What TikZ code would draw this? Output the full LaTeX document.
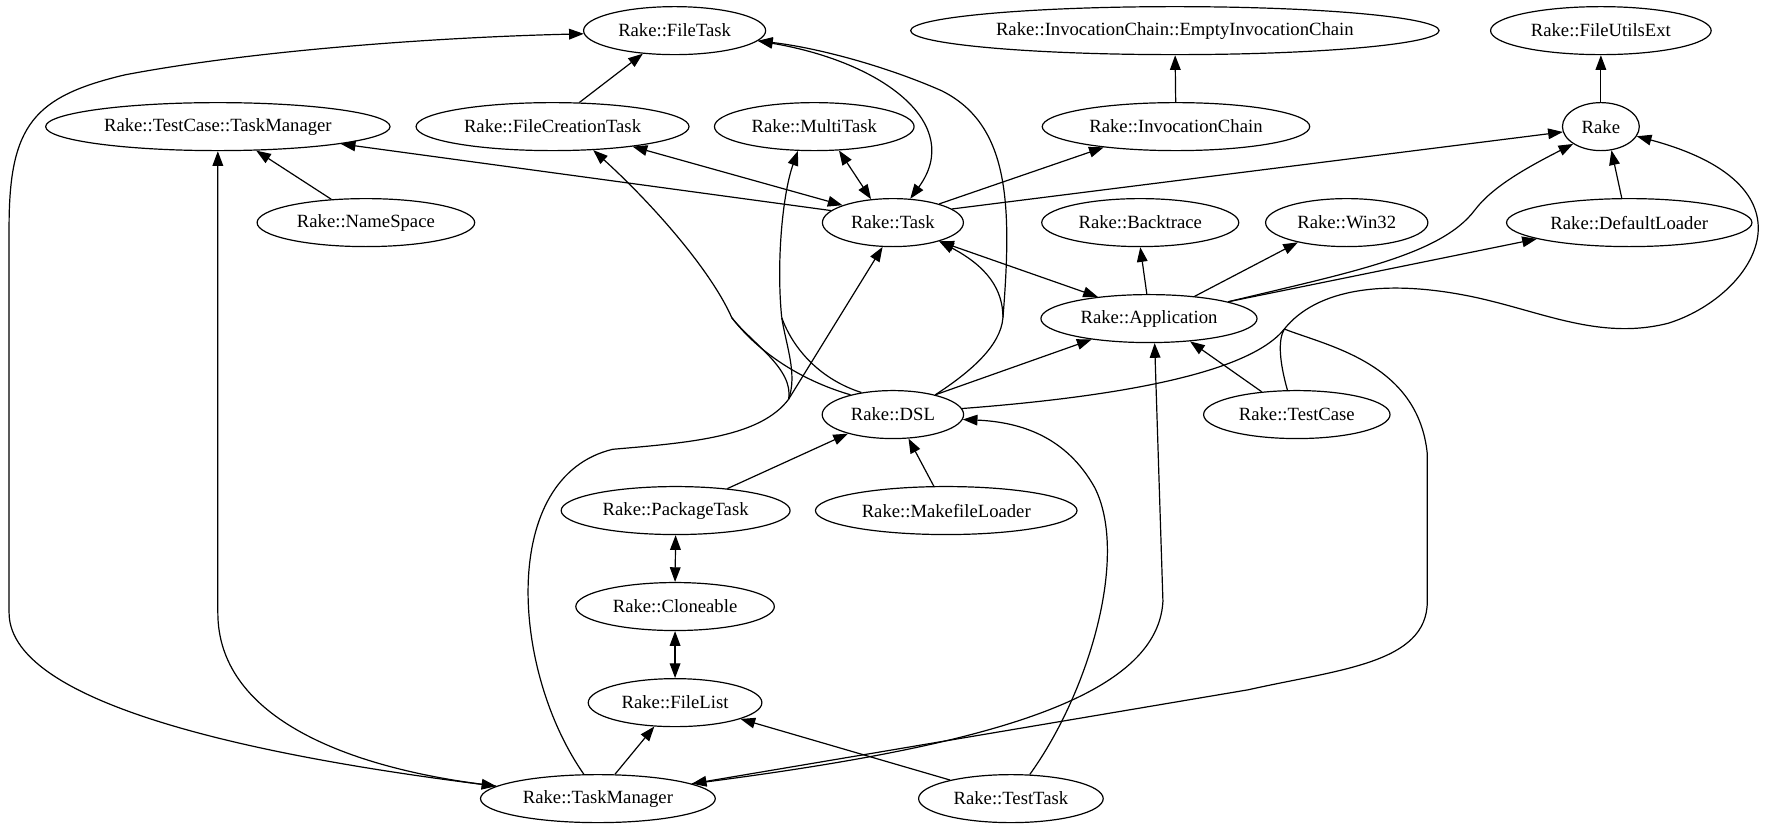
\documentclass[tikz,border=0pt]{standalone}
\usepackage{fontspec}
\setmainfont{Liberation Serif}
\usetikzlibrary{shapes.geometric, arrows.meta}

\begin{document}
\begin{tikzpicture}[
      x=0.851pt, y=-0.851pt,
      every node/.style = {shape=ellipse, draw, line width=0.9pt,
        inner xsep=6pt, minimum height=36pt,
        font=\fontsize{14pt}{17pt}\selectfont},
      ref/.style = {line width=0.9pt, -{Triangle[length=11pt, width=8pt]}},
      mutual/.style = {line width=0.9pt,
        {Triangle[length=11pt, width=8pt]}-{Triangle[length=11pt, width=8pt]}},
      part/.style = {line width=0.9pt}
    ]
      \useasboundingbox (0,0) rectangle (1568,729);

      \node (ft)   at (594.6, 27.0)  {Rake::FileTask};
      \node (eic)  at (1035.5, 27.0) {Rake::InvocationChain::EmptyInvocationChain};
      \node (fue)  at (1411, 27.0)   {Rake::FileUtilsExt};
      \node (tctm) at (192, 111.6)   {Rake::TestCase::TaskManager};
      \node (fct)  at (487, 111.6)   {Rake::FileCreationTask};
      \node (mt)   at (717.7, 111.6) {Rake::MultiTask};
      \node (ic)   at (1036.5, 111.6) {Rake::InvocationChain};
      \node (rake) at (1411, 111.6)  {Rake};
      \node (ns)   at (322.5, 196.2) {Rake::NameSpace};
      \node (task) at (787, 196.2)   {Rake::Task};
      \node (bt)   at (1005, 196.2)  {Rake::Backtrace};
      \node (w32)  at (1187, 196.2)  {Rake::Win32};
      \node (dl)   at (1436, 196.2)  {Rake::DefaultLoader};
      \node (app)  at (1012.7, 280.8) {Rake::Application};
      \node (dsl)  at (787, 365.4)   {Rake::DSL};
      \node (tc)   at (1143, 365.4)  {Rake::TestCase};
      \node (pt)   at (595.5, 450)   {Rake::PackageTask};
      \node (ml)   at (834, 450)     {Rake::MakefileLoader};
      \node (cl)   at (595, 534.6)   {Rake::Cloneable};
      \node (fl)   at (595, 619.3)   {Rake::FileList};
      \node (tm)   at (527, 703.9)   {Rake::TaskManager};
      \node (tt)   at (891, 703.9)   {Rake::TestTask};

      \coordinate (jd) at (884,280);
      \coordinate (jf) at (645,280);
      \coordinate (jm) at (689,280);
      \coordinate (jt) at (695,352);
      \coordinate (jr) at (1132,290);

      \draw[ref] (fct.42) -- (ft.-144);
      \draw[ref] (ns.146) -- (tctm.-32);
      \draw[ref] (task.169) -- (tctm.-8);
      \draw[mutual] (task.161) -- (fct.-14);
      \draw[mutual] (task.133) -- (mt.-44);
      \draw[mutual] (task.54) .. controls (850,110) and (780,55) .. (ft.-7);
      \draw[ref] (task.22) -- (ic.196);
      \draw[ref] (ic) -- (eic);
      \draw[ref] (task.13) -- (rake.188);
      \draw[ref] (rake) -- (fue);
      \draw[ref] (dl.107) -- (rake.-66);
      \draw[ref] (app.95) -- (bt.-90);
      \draw[ref] (app.26) -- (w32.-158);
      \draw[ref] (app.12) -- (dl.190);
      \draw[ref] (app.12) .. controls (1190,240) and (1270,225) .. (1300,185)
        .. controls (1315,165) and (1345,148) .. (rake.212);
      \draw[mutual] (task.-22) -- (app.157);
      \draw[ref] (dsl.25) -- (app.200);
      \draw[ref] (tc.147) -- (app.-29);

      \draw[part] (dsl.25) .. controls (855,328) and (882,305) .. (jd);
      \draw[ref] (jd) .. controls (884,255) and (870,235) .. (task.-22);
      \draw[ref] (jd) .. controls (892,180) and (890,110) .. (830,80)
        .. controls (780,58) and (720,42) .. (ft.-7);

      \draw[ref] (jf) .. controls (625,235) and (570,175) .. (fct.-30);
      \draw[part] (jf) .. controls (668,310) and (705,335) .. (dsl.155);
      \draw[part] (jf) .. controls (662,302) and (700,325) .. (jt);
      \draw[ref] (jm) .. controls (684,230) and (690,170) .. (mt.-124);
      \draw[part] (jm) .. controls (700,310) and (725,335) .. (dsl.145);
      \draw[part] (jm) .. controls (693,305) and (703,330) .. (jt);
      \draw[part] (tm.120) .. controls (450,590) and (440,420) .. (540,396)
        .. controls (610,390) and (670,385) .. (jt);
      \draw[ref] (jt) -- (task.-113);

      \draw[ref] (tt.52) .. controls (960,610) and (995,490) .. (965,430)
        .. controls (940,385) and (900,372) .. (dsl.-4);
      \draw[ref] (ml.117) -- (dsl.-57);
      \draw[ref] (pt.23) -- (dsl.203);
      \draw[mutual] (pt.south) -- (cl.north);
      \draw[mutual] (cl.south) -- (fl.north);
      \draw[ref] (tm.55) -- (fl.-131);
      \draw[ref] (tt.163) -- (fl.-14);

      \draw[part] (dsl.5) .. controls (980,350) and (1100,330) .. (jr);
      \draw[part] (tc.111) .. controls (1128,320) and (1126,300) .. (jr);
      \draw[ref] (jr) .. controls (1160,255) and (1220,245) .. (1300,262)
        .. controls (1360,275) and (1410,300) .. (1470,285)
        .. controls (1545,262) and (1610,165) .. (rake.-15);
      \draw[ref] (jr) .. controls (1170,305) and (1250,320) .. (1258,400)
        -- (1258,530) .. controls (1258,585) and (1180,590) .. (1100,608)
        -- (tm.9);
      \draw[ref] (tm.9) .. controls (850,660) and (1020,620) .. (1025,530)
        -- (app.-77);

      \draw[mutual] (tm.173) .. controls (300,675) and (192,630) .. (192,540)
        -- (tctm.south);
      \draw[ref] (tm.173) .. controls (250,670) and (8,625) .. (8,540)
        -- (8,200) .. controls (8,110) and (30,85) .. (110,66)
        .. controls (220,45) and (380,33) .. (ft.182);
\end{tikzpicture}
\end{document}
